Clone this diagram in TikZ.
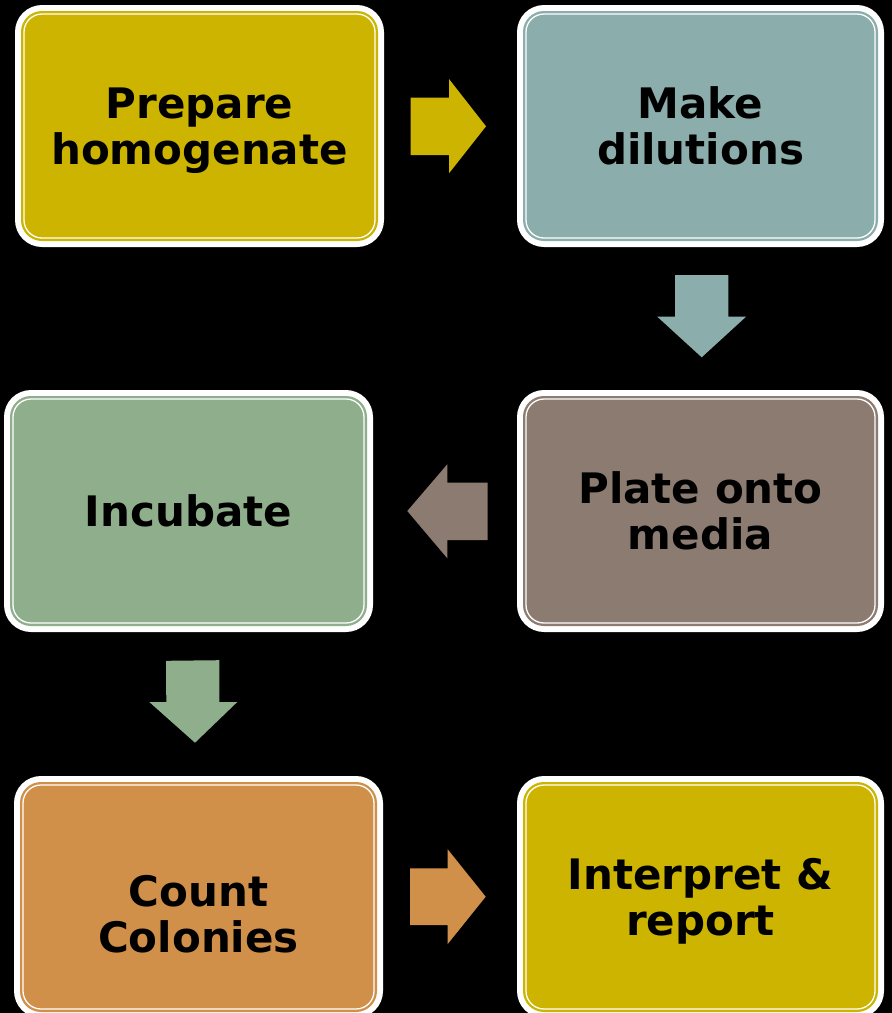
\documentclass[tikz,border=0pt]{standalone}
\usepackage{fontspec}
\setmainfont{DejaVu Sans}
\definecolor{cyellow}{HTML}{CCB400}
\definecolor{cteal}{HTML}{8BADAC}
\definecolor{cbrown}{HTML}{8C7B70}
\definecolor{cgreen}{HTML}{8FAF8C}
\definecolor{corange}{HTML}{D19049}
\newcommand{\lblstrut}{\rule[-10.4pt]{0pt}{51.4pt}}
\newcommand{\stepbox}[6]{% name, x, y, width, color, text y
  \node[outerbox, minimum width=#4] (#1) at (#2,#3) {};
  \fill[#5, rounded corners=21pt] ([shift={(6pt,6pt)}]#1.south west) rectangle ([shift={(-6pt,-6pt)}]#1.north east);
  \draw[white, line width=1.3pt, rounded corners=18pt] ([shift={(9pt,9pt)}]#1.south west) rectangle ([shift={(-9pt,-9pt)}]#1.north east);
}
\tikzset{
  outerbox/.style={draw=none, fill=white, rounded corners=27pt, minimum height=242pt, inner sep=0pt, outer sep=0pt},
  lbl/.style={align=center, inner sep=0pt, text=black,
    font={\fontsize{42}{46}\selectfont\bfseries\lineskiplimit=-1000pt}},
  blockarrow/.style={draw=none}
}
\begin{document}
\begin{tikzpicture}[x=1pt,y=-1pt]
\fill[black] (0,0) rectangle (892,1013);
\useasboundingbox (0,0) rectangle (892,1013);

\stepbox{b1}{199.5}{126}{369pt}{cyellow}{}
\stepbox{b2}{700.5}{126}{367pt}{cteal}{}
\stepbox{b3}{700.5}{511}{367pt}{cbrown}{}
\stepbox{b4}{188.5}{511}{369pt}{cgreen}{}
\stepbox{b5}{198.5}{897}{369pt}{corange}{}
\stepbox{b6}{700.5}{897}{367pt}{cyellow}{}

\node[lbl] (t1) at (b1) {\lblstrut Prepare\\\lblstrut homogenate};
\node[lbl] (t2) at (b2) {\lblstrut Make\\\lblstrut dilutions};
\node[lbl] (t3) at (b3) {\lblstrut Plate onto\\\lblstrut media};
\node[lbl] (t4) at (b4) {\lblstrut Incubate};
\node[lbl] (t5) at (198.5,914) {\lblstrut Count\\\lblstrut Colonies};
\node[lbl] (t6) at (b6) {\lblstrut Interpret \&\\\lblstrut report};

% block arrows
\fill[cyellow] (410.7,97.7) -- (449,97.7) -- (449,79) -- (486,126.3) -- (449,173.3) -- (449,155) -- (410.7,155) -- cycle;
\fill[cteal] (675,275) -- (728.3,275) -- (728.3,316.7) -- (746,316.7) -- (701.7,357.3) -- (657.3,316.7) -- (675,316.7) -- cycle;
\fill[cbrown] (487.7,482.7) -- (447.3,482.7) -- (447.3,464.3) -- (407.3,511) -- (447.3,558.3) -- (447.3,540) -- (487.7,540) -- cycle;
\fill[cgreen] (166,660.8) -- (219.3,660.2) -- (219.3,702) -- (237.3,702) -- (195,742.7) -- (149.3,702) -- (166.3,702) -- cycle;
\fill[corange] (410,868.3) -- (447.7,868.3) -- (447.7,849.3) -- (485.7,896.7) -- (447.7,944) -- (447.7,925) -- (410,925) -- cycle;
\end{tikzpicture}
\end{document}
